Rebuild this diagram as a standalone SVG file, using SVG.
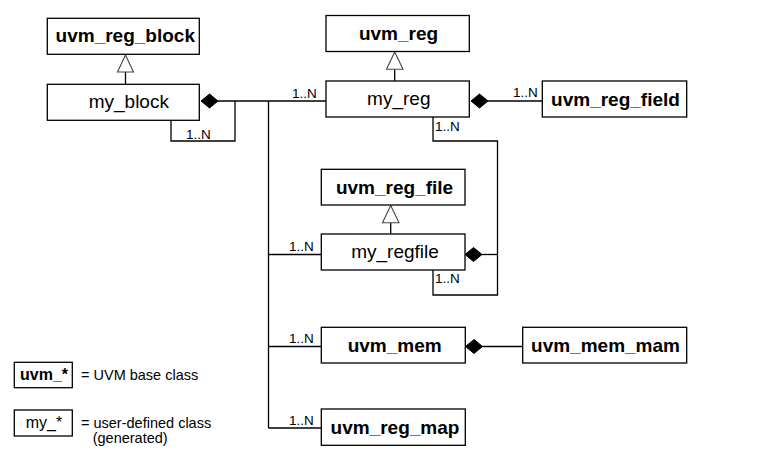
<svg xmlns="http://www.w3.org/2000/svg" width="758" height="463" viewBox="0 0 758 463">
<style>
.box{fill:#fff;stroke:#000;stroke-width:1.3}
.tri{fill:#fff;stroke:#444;stroke-width:1.1}
.dia{fill:#000;stroke:#000;stroke-width:1}
.ln{fill:none;stroke:#000;stroke-width:1.3}
.b{font-family:"Liberation Sans",Arial,sans-serif;font-weight:bold;font-size:19px;text-anchor:middle;fill:#000}
.r{font-family:"Liberation Sans",Arial,sans-serif;font-size:19px;text-anchor:middle;fill:#000}
.m{font-family:"Liberation Sans",Arial,sans-serif;font-size:13.5px;fill:#000}
.lg{font-family:"Liberation Sans",Arial,sans-serif;font-size:14.5px;fill:#000}
</style>
<rect width="758" height="463" fill="#fff"/>
<g id="connectors">
  <line class="ln" x1="125.5" y1="72" x2="125.5" y2="84"/>
  <polygon class="tri" points="125.5,55 117.5,72 133.5,72"/>
  <line class="ln" x1="394.7" y1="69.3" x2="394.7" y2="81"/>
  <polygon class="tri" points="394.7,52 386.5,69.3 403,69.3"/>
  <line class="ln" x1="390.7" y1="222.7" x2="390.7" y2="234"/>
  <polygon class="tri" points="390.7,205.5 382.5,222.7 399,222.7"/>
  <line class="ln" x1="218" y1="101" x2="326" y2="101"/>
  <polygon class="dia" points="201,101 209.5,94 218,101 209.5,108"/>
  <polyline class="ln" points="171,120 171,141 235,141 235,101"/>
  <line class="ln" x1="268.5" y1="101" x2="268.5" y2="428"/>
  <line class="ln" x1="268.5" y1="254.5" x2="321" y2="254.5"/>
  <line class="ln" x1="268.5" y1="346.5" x2="321" y2="346.5"/>
  <line class="ln" x1="268.5" y1="428" x2="321" y2="428"/>
  <line class="ln" x1="488" y1="101" x2="542" y2="101"/>
  <polygon class="dia" points="471,101 479.5,94 488,101 479.5,108"/>
  <polyline class="ln" points="433,117 433,141 497.5,141 497.5,295 433,295 433,270"/>
  <line class="ln" x1="482" y1="254.5" x2="497.5" y2="254.5"/>
  <polygon class="dia" points="465,254.5 473.5,247.5 482,254.5 473.5,261.5"/>
  <line class="ln" x1="482.5" y1="346.5" x2="522.5" y2="346.5"/>
  <polygon class="dia" points="465.5,346.5 474,339.5 482.5,346.5 474,353.5"/>
  <text class="m" x="292" y="97.5">1..N</text>
  <text class="m" x="186" y="138.5">1..N</text>
  <text class="m" x="513" y="97">1..N</text>
  <text class="m" x="435" y="131">1..N</text>
  <text class="m" x="289" y="250.5">1..N</text>
  <text class="m" x="435" y="283">1..N</text>
  <text class="m" x="289" y="343">1..N</text>
  <text class="m" x="289" y="425">1..N</text>
</g>
<g id="uvm_reg_block"><rect class="box" x="47.3" y="18.3" width="152" height="36"/><text class="b" x="125.3" y="42">uvm_reg_block</text></g>
<g id="my_block"><rect class="box" x="47.3" y="84.3" width="152" height="36"/><text class="r" x="128.8" y="107.5">my_block</text></g>
<g id="uvm_reg"><rect class="box" x="326" y="15.5" width="143.3" height="36"/><text class="b" x="398.5" y="39.5">uvm_reg</text></g>
<g id="my_reg"><rect class="box" x="326" y="81" width="143.3" height="36"/><text class="r" x="398.8" y="104.5">my_reg</text></g>
<g id="uvm_reg_field"><rect class="box" x="542.3" y="81" width="144.4" height="36"/><text class="b" x="615.5" y="105.5">uvm_reg_field</text></g>
<g id="uvm_reg_file"><rect class="box" x="321.3" y="169.3" width="143.7" height="35.7"/><text class="b" x="394.5" y="193.5">uvm_reg_file</text></g>
<g id="my_regfile"><rect class="box" x="321.3" y="234" width="143.7" height="36"/><text class="r" x="395" y="257.5">my_regfile</text></g>
<g id="uvm_mem"><rect class="box" x="321.3" y="327.3" width="144" height="35.7"/><text class="b" x="394.7" y="351.5">uvm_mem</text></g>
<g id="uvm_mem_mam"><rect class="box" x="522.7" y="327.3" width="164" height="35.7"/><text class="b" x="605.5" y="351.5">uvm_mem_mam</text></g>
<g id="uvm_reg_map"><rect class="box" x="321.3" y="409" width="144" height="36.3"/><text class="b" x="395" y="433.5">uvm_reg_map</text></g>
<g id="legend">
  <rect class="box" x="14.3" y="362.3" width="58" height="25.4"/>
  <text class="b" x="44" y="380" style="font-size:16px">uvm_*</text>
  <text class="lg" x="81" y="380">= UVM base class</text>
  <rect class="box" x="14.3" y="410" width="58" height="26"/>
  <text class="r" x="44" y="428" style="font-size:16px">my_*</text>
  <text class="lg" x="81" y="428">= user-defined class</text>
  <text class="lg" x="92.7" y="443">(generated)</text>
</g>
</svg>
